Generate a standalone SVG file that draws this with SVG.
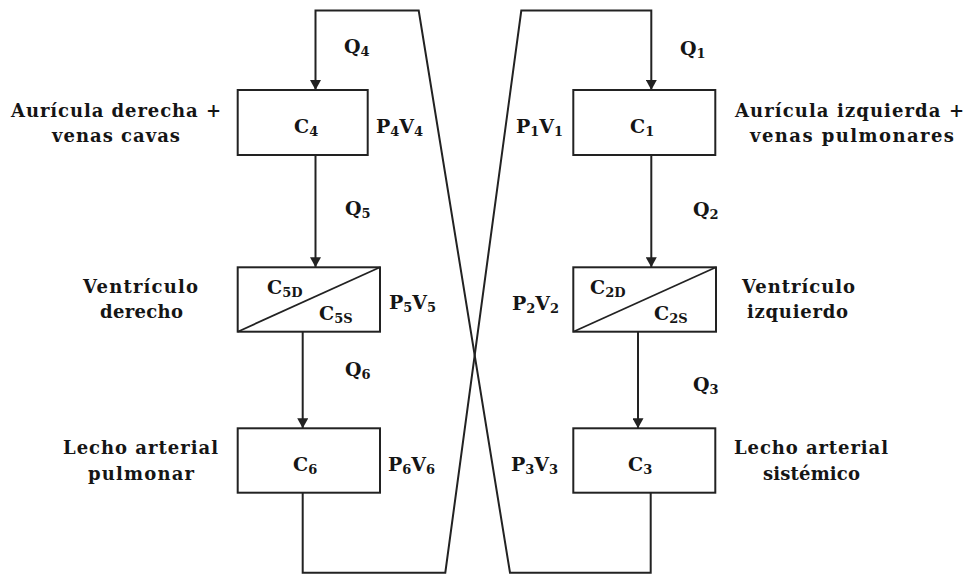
<svg xmlns="http://www.w3.org/2000/svg" width="966" height="574" viewBox="0 0 966 574">
  <defs>
    <style>
      .box { fill: #fff; stroke: #222; stroke-width: 2; }
      .split { stroke: #222; stroke-width: 1.8; fill: none; }
      .wire { fill: none; stroke: #222; stroke-width: 2; stroke-linejoin: miter; }
      .lbl { font-family: "DejaVu Serif", "Liberation Serif", serif; font-weight: bold; font-size: 18px; fill: #151515; }
      .sym { font-family: "DejaVu Serif", "Liberation Serif", serif; font-weight: bold; font-size: 19px; fill: #151515; }
      .sub { font-size: 13px; }
    </style>
    <marker id="arrow" markerUnits="userSpaceOnUse" markerWidth="11" markerHeight="11" refX="10" refY="5.5" orient="auto">
      <path d="M0,0 L10,5.5 L0,11 Z" fill="#222"/>
    </marker>
  </defs>

  <rect width="966" height="574" fill="#fff"/>

  <!-- flow connectors -->
  <g id="connectors">
    <!-- systemic return: C3 -> right atrium C4 -->
    <path class="wire" d="M650.7,492.7 V572.7 H510 L418.7,10.5 H315.5 V90" marker-end="url(#arrow)"/>
    <!-- pulmonary return: C6 -> left atrium C1 -->
    <path class="wire" d="M302.7,492.7 V572.7 H445.3 L521.3,10.5 H651.3 V90" marker-end="url(#arrow)"/>
    <path class="wire" d="M315.5,155 V267.3" marker-end="url(#arrow)"/>
    <path class="wire" d="M302.7,331.7 V428.3" marker-end="url(#arrow)"/>
    <path class="wire" d="M651.3,155 V267.3" marker-end="url(#arrow)"/>
    <path class="wire" d="M638,331.7 V428.3" marker-end="url(#arrow)"/>
  </g>

  <!-- flow labels -->
  <g id="flows">
    <text class="sym" x="344" y="53">Q<tspan class="sub" dy="3">4</tspan></text>
    <text class="sym" x="680" y="55">Q<tspan class="sub" dy="3">1</tspan></text>
    <text class="sym" x="345" y="215">Q<tspan class="sub" dy="3">5</tspan></text>
    <text class="sym" x="693" y="216">Q<tspan class="sub" dy="3">2</tspan></text>
    <text class="sym" x="345" y="376">Q<tspan class="sub" dy="3">6</tspan></text>
    <text class="sym" x="693" y="391">Q<tspan class="sub" dy="3">3</tspan></text>
  </g>

  <!-- right atrium + venae cavae -->
  <g id="node-c4">
    <rect class="box" x="237.7" y="90" width="130" height="65"/>
    <text class="sym" x="294" y="133">C<tspan class="sub" dy="3">4</tspan></text>
    <text class="sym" x="376" y="133">P<tspan class="sub" dy="3">4</tspan><tspan dy="-3">V</tspan><tspan class="sub" dy="3">4</tspan></text>
    <text class="lbl" x="11" y="117" textLength="210">Aurícula derecha +</text>
    <text class="lbl" x="52" y="142" textLength="128">venas cavas</text>
  </g>

  <!-- right ventricle -->
  <g id="node-c5">
    <rect class="box" x="237.7" y="267.3" width="142.3" height="64.4"/>
    <line class="split" x1="237.7" y1="331.7" x2="380" y2="267.3"/>
    <text class="sym" x="267" y="294">C<tspan class="sub" dy="3">5D</tspan></text>
    <text class="sym" x="319" y="320">C<tspan class="sub" dy="3">5S</tspan></text>
    <text class="sym" x="389" y="309">P<tspan class="sub" dy="3">5</tspan><tspan dy="-3">V</tspan><tspan class="sub" dy="3">5</tspan></text>
    <text class="lbl" x="83" y="293" textLength="115">Ventrículo</text>
    <text class="lbl" x="100" y="318" textLength="83">derecho</text>
  </g>

  <!-- pulmonary arterial bed -->
  <g id="node-c6">
    <rect class="box" x="237.7" y="428.3" width="142.3" height="64.4"/>
    <text class="sym" x="293" y="471">C<tspan class="sub" dy="3">6</tspan></text>
    <text class="sym" x="388" y="471">P<tspan class="sub" dy="3">6</tspan><tspan dy="-3">V</tspan><tspan class="sub" dy="3">6</tspan></text>
    <text class="lbl" x="63" y="454" textLength="155">Lecho arterial</text>
    <text class="lbl" x="88" y="480" textLength="106">pulmonar</text>
  </g>

  <!-- left atrium + pulmonary veins -->
  <g id="node-c1">
    <rect class="box" x="573.3" y="90" width="142" height="65"/>
    <text class="sym" x="630" y="133">C<tspan class="sub" dy="3">1</tspan></text>
    <text class="sym" x="516" y="133">P<tspan class="sub" dy="3">1</tspan><tspan dy="-3">V</tspan><tspan class="sub" dy="3">1</tspan></text>
    <text class="lbl" x="735" y="117" textLength="229">Aurícula izquierda +</text>
    <text class="lbl" x="750" y="142" textLength="204">venas pulmonares</text>
  </g>

  <!-- left ventricle -->
  <g id="node-c2">
    <rect class="box" x="573.3" y="267.3" width="142.7" height="64.4"/>
    <line class="split" x1="573.3" y1="331.7" x2="716" y2="267.3"/>
    <text class="sym" x="590" y="294">C<tspan class="sub" dy="3">2D</tspan></text>
    <text class="sym" x="654" y="320">C<tspan class="sub" dy="3">2S</tspan></text>
    <text class="sym" x="512" y="310">P<tspan class="sub" dy="3">2</tspan><tspan dy="-3">V</tspan><tspan class="sub" dy="3">2</tspan></text>
    <text class="lbl" x="742" y="293" textLength="113">Ventrículo</text>
    <text class="lbl" x="747" y="318" textLength="101">izquierdo</text>
  </g>

  <!-- systemic arterial bed -->
  <g id="node-c3">
    <rect class="box" x="573.3" y="428.3" width="142" height="64.4"/>
    <text class="sym" x="628" y="471">C<tspan class="sub" dy="3">3</tspan></text>
    <text class="sym" x="511" y="471">P<tspan class="sub" dy="3">3</tspan><tspan dy="-3">V</tspan><tspan class="sub" dy="3">3</tspan></text>
    <text class="lbl" x="734" y="454" textLength="154">Lecho arterial</text>
    <text class="lbl" x="763" y="480" textLength="97">sistémico</text>
  </g>
</svg>
